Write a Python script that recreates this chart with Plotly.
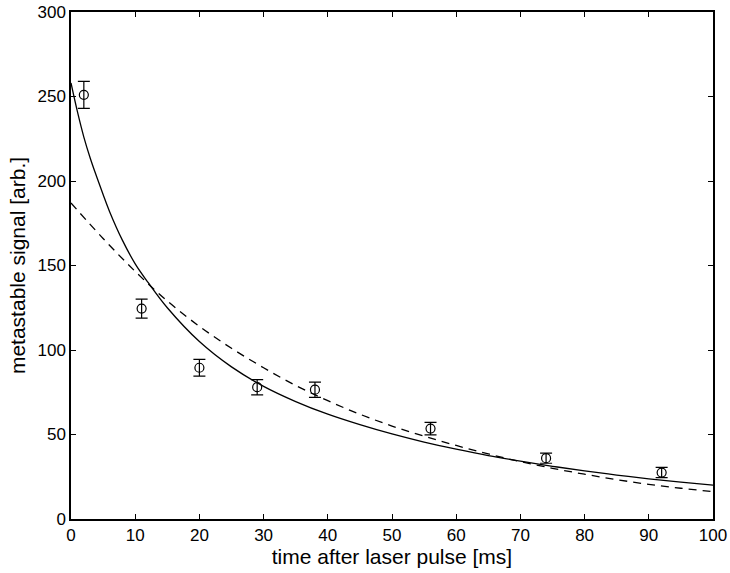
import plotly.graph_objects as go

# measured signal with error bars
t_meas = [2, 11, 20, 29, 38, 56, 74, 92]
signal_meas = [251, 124.5, 89.5, 78, 76.5, 53.5, 36, 27.5]
signal_err = [8, 5.6, 5, 4.5, 4.5, 3.7, 3, 3]

# solid fit curve
t_fit1 = [0, 1, 2, 3, 4, 5, 6, 8, 10, 12, 15, 20, 25, 30, 35, 40, 45, 50,
          55, 60, 65, 70, 75, 80, 85, 90, 95, 100]
signal_fit1 = [258, 241, 226, 213.5, 202.5, 192, 182, 165, 151, 140, 125, 105,
               90, 78.5, 69.5, 62, 55.8, 50.3, 45.5, 41.3, 37.5, 34.2, 31.2,
               28.5, 26, 23.8, 21.8, 20]

# dashed fit curve
t_fit2 = [0, 5, 10, 15, 20, 25, 30, 35, 40, 45, 50, 55, 60, 65, 70, 75, 80,
          85, 90, 95, 100]
signal_fit2 = [187, 166, 146.5, 129, 114, 101, 89.5, 79, 70, 62, 55, 49,
               43.5, 38.5, 34, 30, 26.5, 23.3, 20.5, 18.2, 16.2]

x_ticks = [0, 10, 20, 30, 40, 50, 60, 70, 80, 90, 100]
y_ticks = [0, 50, 100, 150, 200, 250, 300]

fig = go.Figure()

fig.add_trace(go.Scatter(x=t_fit1, y=signal_fit1, mode='lines',
                         line=dict(color='black', width=1.3, shape='spline'),
                         showlegend=False))
fig.add_trace(go.Scatter(x=t_fit2, y=signal_fit2, mode='lines',
                         line=dict(color='black', width=1.3, dash='8px,6px',
                                   shape='spline'),
                         showlegend=False))
fig.add_trace(go.Scatter(x=t_meas, y=signal_meas, mode='markers',
                         marker=dict(symbol='circle-open', size=9, color='black',
                                     line=dict(width=1.2)),
                         error_y=dict(type='data', array=signal_err, color='black',
                                      thickness=1.2, width=6),
                         showlegend=False))

axis_style = dict(showline=True, linecolor='black', linewidth=1.5, mirror='allticks',
                  ticks='inside', ticklen=5, tickwidth=1, tickcolor='black',
                  showgrid=False, zeroline=False, ticklabeloverflow='allow',
                  tickfont=dict(family='Liberation Sans', size=17, color='black'))

fig.update_xaxes(range=[0, 100], tickvals=x_ticks,
                 title=dict(text='time after laser pulse [ms]', standoff=4,
                            font=dict(family='Liberation Sans', size=21, color='black')),
                 **axis_style)
fig.update_yaxes(range=[0, 300], tickvals=y_ticks,
                 title=dict(text='metastable signal [arb.]', standoff=6,
                            font=dict(family='Liberation Sans', size=21, color='black')),
                 **axis_style)

fig.update_layout(width=730, height=573,
                  margin=dict(l=71, r=17, t=12, b=54, autoexpand=False),
                  plot_bgcolor='white', paper_bgcolor='white')

# drop the default 8px body margin so the figure fills the window exactly
fig.write_html("out.html", config={'displayModeBar': False},
               post_script="document.body.style.margin='0px';")
